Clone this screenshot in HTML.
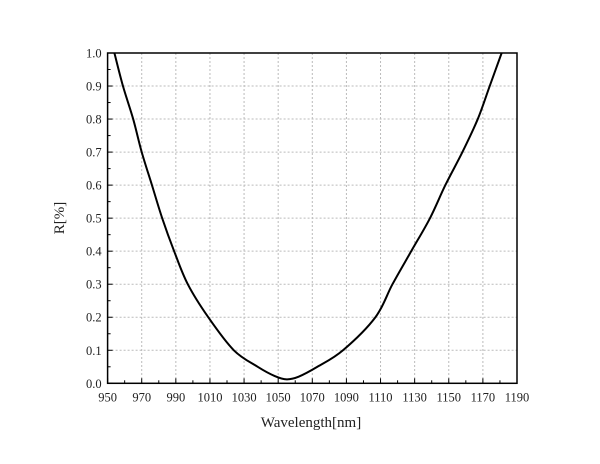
<!DOCTYPE html>
<html><head><meta charset="utf-8"><style>
html,body{margin:0;padding:0;background:#fff;}
svg text{font-family:"Liberation Serif","Noto Serif CJK SC",serif;fill:#222;}
</style></head><body>
<svg id="chart" width="600" height="459" viewBox="0 0 600 459">
<g id="grid"></g>
<g id="axes"></g>
<path id="curve" fill="none" stroke="#000" stroke-width="2"/>
<text x="311" y="427" font-size="15" text-anchor="middle">Wavelength[nm]</text>
<text transform="translate(64,218) rotate(-90)" font-size="15" text-anchor="middle">R[%]</text>
</svg>
<script>
const wavelengths=[954,959,965,970,976,982,989,997,1009,1024,1038,1048,1055,1062,1073,1088,1107,1117,1128,1139,1148,1158,1167,1174,1181];
const reflectance=[1.0,0.9,0.8,0.7,0.6,0.5,0.4,0.3,0.2,0.1,0.05,0.022,0.012,0.02,0.05,0.1,0.2,0.3,0.4,0.5,0.6,0.7,0.8,0.9,1.0];
const xTicks=[950,970,990,1010,1030,1050,1070,1090,1110,1130,1150,1170,1190];
const yTicks=[0.0,0.1,0.2,0.3,0.4,0.5,0.6,0.7,0.8,0.9,1.0];
const X0=107.6,X1=517,Y0=383.3,Y1=53;
const xs=v=>X0+(v-950)/240*(X1-X0);
const ys=v=>Y0-v*(Y0-Y1);
const NS="http://www.w3.org/2000/svg";
const grid=document.getElementById('grid'),axes=document.getElementById('axes');
function mk(tag,attrs,parent){const e=document.createElementNS(NS,tag);for(const k in attrs)e.setAttribute(k,attrs[k]);parent.appendChild(e);return e;}
xTicks.forEach((t,i)=>{
  const x=xs(t);
  if(i>0&&i<xTicks.length-1){const g=mk('line',{x1:x,x2:x,y1:Y1,y2:Y0,stroke:'#bbb','stroke-width':1,'stroke-dasharray':'2,2'},grid);
  
  }
  const tk=mk('line',{x1:x,x2:x,y1:Y0,y2:Y0-5,stroke:'#000','stroke-width':1},axes);
  
  
  if(i<xTicks.length-1){const m=mk('line',{x1:xs(t+10),x2:xs(t+10),y1:Y0,y2:Y0-3,stroke:'#000','stroke-width':1},axes);
  
  }
  const lb=mk('text',{x:x,y:Y0+18,'font-size':12.5,'text-anchor':'middle'},axes);lb.textContent=t;
  
  
});
yTicks.forEach((t,i)=>{
  const y=ys(t);
  if(i>0&&i<yTicks.length-1){const g=mk('line',{x1:X0,x2:X1,y1:y,y2:y,stroke:'#bbb','stroke-width':1,'stroke-dasharray':'2,2'},grid);
  
  }
  const tk=mk('line',{x1:X0,x2:X0+5,y1:y,y2:y,stroke:'#000','stroke-width':1},axes);
  
  
  if(i<yTicks.length-1){const m=mk('line',{x1:X0,x2:X0+3,y1:ys(t+0.05),y2:ys(t+0.05),stroke:'#000','stroke-width':1},axes);
  
  }
  const lb=mk('text',{x:X0-6,y:y+4.5,'font-size':12.5,'text-anchor':'end'},axes);lb.textContent=t.toFixed(1);
  
  
});
const fr=mk('rect',{x:X0,y:Y1,width:X1-X0,height:Y0-Y1,fill:'none',stroke:'#000','stroke-width':1.5},axes);


// Catmull-Rom smooth path
const P=wavelengths.map((w,i)=>[xs(w),ys(reflectance[i])]);
let d='M'+P[0][0]+','+P[0][1];
for(let i=0;i<P.length-1;i++){
  const p0=P[Math.max(0,i-1)],p1=P[i],p2=P[i+1],p3=P[Math.min(P.length-1,i+2)];
  const c1=[p1[0]+(p2[0]-p0[0])/6,p1[1]+(p2[1]-p0[1])/6];
  const c2=[p2[0]-(p3[0]-p1[0])/6,p2[1]-(p3[1]-p1[1])/6];
  d+=' C'+c1+' '+c2+' '+p2;
}
document.getElementById('curve').setAttribute('d',d);
</script>
</body></html>
